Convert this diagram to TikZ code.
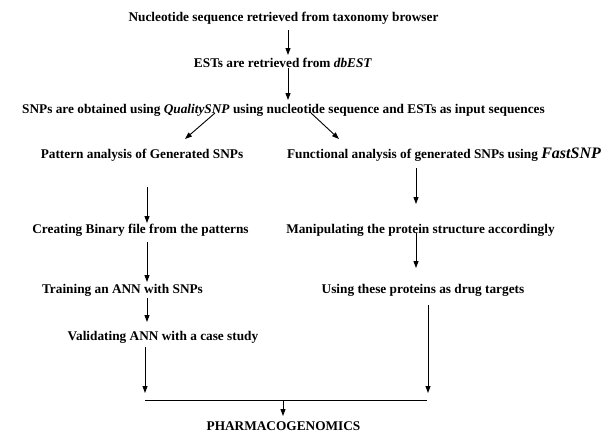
\documentclass[tikz,border=0pt]{standalone}
\usepackage{fontspec}
\setmainfont{Liberation Serif}
\usetikzlibrary{arrows.meta}
\begin{document}
\begin{tikzpicture}[x=1pt,y=-1pt,
  lbl/.style={inner sep=0pt,font=\fontsize{13.3}{15}\selectfont\bfseries},
  arr/.style={line width=0.9pt,-{Triangle[length=7pt,width=5pt]}},
  ln/.style={line width=0.9pt}]
\useasboundingbox (0,0) rectangle (613,432);
\node[lbl] (n1) at (283.5,18) {Nucleotide sequence retrieved from taxonomy browser};
\node[lbl] (n2) at (283,63) {ESTs are retrieved from \textit{dbEST}};
\node[lbl] (n3) at (283.5,110) {SNPs are obtained using \textit{QualitySNP} using nucleotide sequence and ESTs as input sequences};
\node[lbl] (l1) at (142,155) {Pattern analysis of Generated SNPs};
\node[lbl] (r1) at (444,155) {Functional analysis of generated SNPs using {\fontsize{16}{18}\selectfont\textit{FastSNP}}};
\node[lbl] (l2) at (140.5,230) {Creating Binary file from the patterns};
\node[lbl] (r2) at (420.5,230) {Manipulating the protein structure accordingly};
\node[lbl] (l3) at (122.5,290) {Training an ANN with SNPs};
\node[lbl] (r3) at (423,290) {Using these proteins as drug targets};
\node[lbl] (l4) at (163,337) {Validating ANN with a case study};
\node[lbl] (p) at (283.5,426) {PHARMACOGENOMICS};
\coordinate (jl) at (145,400.5);
\coordinate (jr) at (427,400.5);
\coordinate (jm) at (283,400.5);
\draw[arr] (288,30) -- (288,55);
\draw[arr] (288,68) -- (288,100);
\draw[arr] (215,113) -- (185,139);
\draw[arr] (311,113) -- (339,139);
\draw[arr] (147,187) -- (147,223);
\draw[arr] (416,168) -- (416,204);
\draw[arr] (147,242) -- (147,282);
\draw[arr] (416,233) -- (416,268);
\draw[arr] (147,298) -- (147,322);
\draw[arr] (145,347) -- (145,393);
\draw[arr] (428,305) -- (428,393);
\draw[ln] (jl) -- (jr);
\draw[arr] (jm) -- (283,416);
\end{tikzpicture}
\end{document}
